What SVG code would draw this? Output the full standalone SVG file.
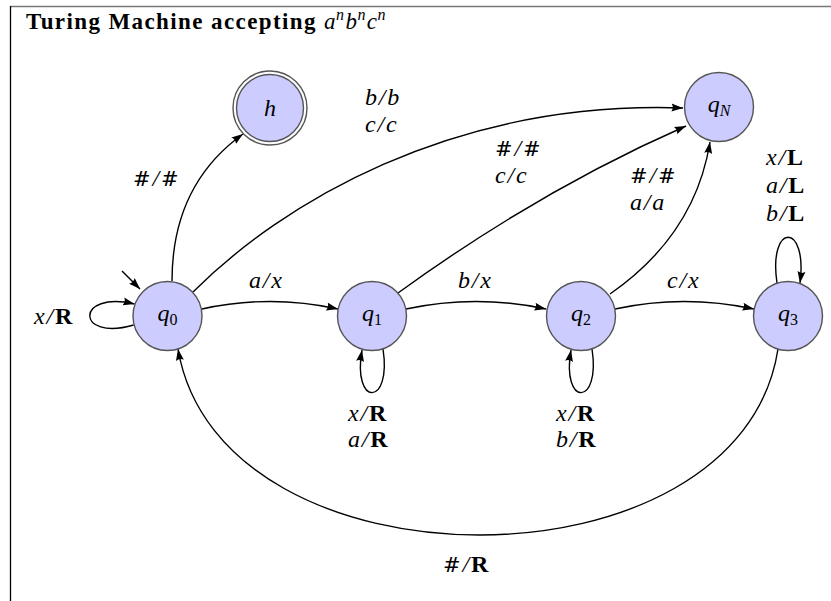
<svg xmlns="http://www.w3.org/2000/svg" width="831" height="601" viewBox="0 0 831 601">
<defs>
<marker id="arr" markerUnits="userSpaceOnUse" markerWidth="12" markerHeight="9" viewBox="0 0 12 9" refX="11.5" refY="4.5" orient="auto">
<path d="M0,0.5 L11.5,4.5 L0,8.5 Q2.5,4.5 0,0.5 z" fill="#000"/>
</marker>
<style>
.node circle{fill:#ccccff;stroke:#555;stroke-width:1.4}
.node circle.outer{fill:#fff}
.edge{fill:none;stroke:#000;stroke-width:1.4;marker-end:url(#arr)}
.lbl{font-family:"Liberation Serif",serif;font-size:24px;font-style:italic;letter-spacing:1.8px;fill:#000}
.nl{font-family:"Liberation Serif",serif;font-size:24px;font-style:italic;text-anchor:middle;fill:#000}
.b{font-style:normal;font-weight:bold}
.h{font-family:"DejaVu Serif",serif;font-style:normal;font-size:21px}
.title{font-family:"Liberation Serif",serif;font-size:23px;font-weight:bold;letter-spacing:1.4px;fill:#000}
.m{font-style:italic;font-weight:normal;letter-spacing:0.5px}
.sup{font-style:italic;font-weight:normal;font-size:16px}
</style>
</defs>
<rect width="831" height="601" fill="#fff"/>
<line x1="10" y1="6.5" x2="831" y2="6.5" stroke="#777" stroke-width="1.5"/>
<line x1="10.5" y1="6" x2="10.5" y2="601" stroke="#000" stroke-width="1.3"/>
<text class="title" x="26" y="29">Turing Machine accepting <tspan class="m">a</tspan><tspan class="sup" dy="-9">n</tspan><tspan class="m" dy="9">b</tspan><tspan class="sup" dy="-9">n</tspan><tspan class="m" dy="9">c</tspan><tspan class="sup" dy="-9">n</tspan></text>

<g id="connectors">
<line class="edge" x1="122" y1="271" x2="140" y2="289"/>
<path class="edge" d="M133.7 325 C75 342 75 290 134.6 304"/>
<path class="edge" d="M202 309 Q270 294 338 309"/>
<path class="edge" d="M406 309 Q476 294 546 309"/>
<path class="edge" d="M615 309 Q684 294 754 309"/>
<path class="edge" d="M172 281 Q172 185 243 134"/>
<path class="edge" d="M193 292 C280 205 450 100 683 108"/>
<path class="edge" d="M398 293 Q540 190 686 126"/>
<path class="edge" d="M610 294 Q695 235 710 142"/>
<path class="edge" d="M383 349 C392 407 352 407 362 350"/>
<path class="edge" d="M592 349 C601 407 561 407 571 350"/>
<path class="edge" d="M777 283 C768 222 808 222 800 283"/>
<path class="edge" d="M778 349 C740 597 220 597 178 349"/>
</g>

<g id="labels">
<text class="lbl" x="34" y="324">x/<tspan class="b">R</tspan></text>
<text class="lbl" x="133" y="186"><tspan class="h">#</tspan>/<tspan class="h">#</tspan></text>
<text class="lbl" x="249" y="288">a/x</text>
<text class="lbl" x="458" y="288">b/x</text>
<text class="lbl" x="667" y="288">c/x</text>
<text class="lbl" x="365" y="105">b/b</text>
<text class="lbl" x="365" y="132">c/c</text>
<text class="lbl" x="495" y="156"><tspan class="h">#</tspan>/<tspan class="h">#</tspan></text>
<text class="lbl" x="495" y="183">c/c</text>
<text class="lbl" x="630" y="183"><tspan class="h">#</tspan>/<tspan class="h">#</tspan></text>
<text class="lbl" x="630" y="210">a/a</text>
<text class="lbl" x="766" y="165">x/<tspan class="b">L</tspan></text>
<text class="lbl" x="766" y="193">a/<tspan class="b">L</tspan></text>
<text class="lbl" x="766" y="221">b/<tspan class="b">L</tspan></text>
<text class="lbl" x="348" y="421">x/<tspan class="b">R</tspan></text>
<text class="lbl" x="348" y="447">a/<tspan class="b">R</tspan></text>
<text class="lbl" x="556" y="421">x/<tspan class="b">R</tspan></text>
<text class="lbl" x="556" y="447">b/<tspan class="b">R</tspan></text>
<text class="lbl" x="443" y="572"><tspan class="h">#</tspan>/<tspan class="b">R</tspan></text>
</g>

<g id="q0" class="node"><circle cx="167.5" cy="316" r="34.5"/><text class="nl" x="167.5" y="321">q<tspan font-size="16" font-style="normal" dy="4">0</tspan></text></g>
<g id="q1" class="node"><circle cx="372" cy="316" r="34.5"/><text class="nl" x="372" y="321">q<tspan font-size="16" font-style="normal" dy="4">1</tspan></text></g>
<g id="q2" class="node"><circle cx="581" cy="316" r="34.5"/><text class="nl" x="581" y="321">q<tspan font-size="16" font-style="normal" dy="4">2</tspan></text></g>
<g id="q3" class="node"><circle cx="788" cy="316" r="34.5"/><text class="nl" x="788" y="321">q<tspan font-size="16" font-style="normal" dy="4">3</tspan></text></g>
<g id="h" class="node"><circle class="outer" cx="270" cy="108" r="37"/><circle cx="270" cy="108" r="33.5"/><text class="nl" x="270" y="116">h</text></g>
<g id="qN" class="node"><circle cx="719" cy="107" r="34.5"/><text class="nl" x="719" y="112">q<tspan font-size="16" dy="4">N</tspan></text></g>
</svg>
